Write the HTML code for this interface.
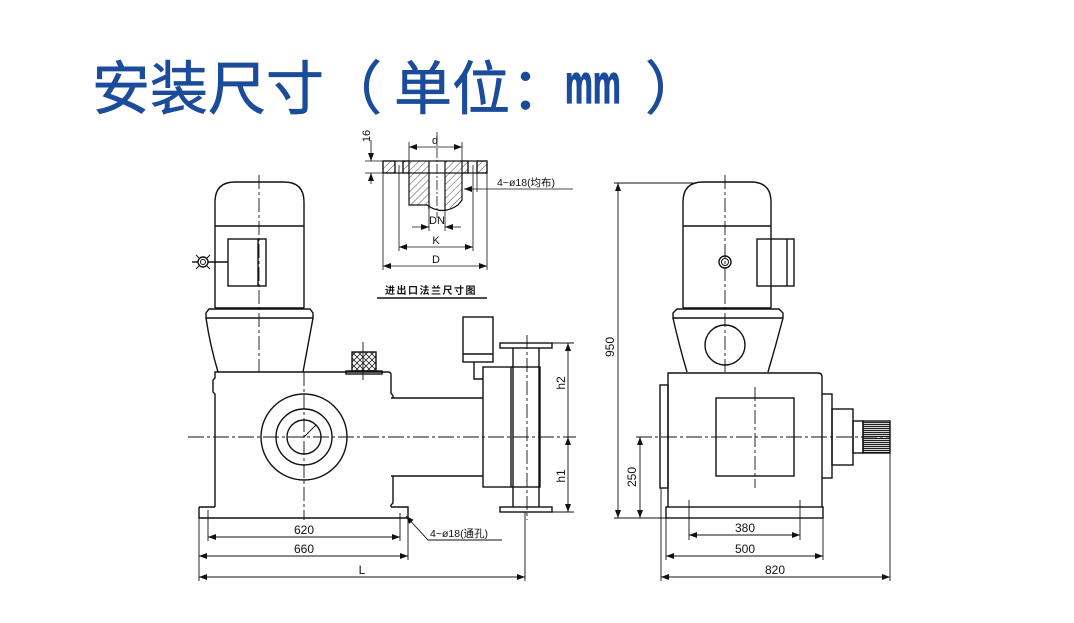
<!DOCTYPE html>
<html><head><meta charset="utf-8"><style>
html,body{margin:0;padding:0;background:#fff;}
svg{display:block;}
</style></head><body>
<svg width="1074" height="623" viewBox="0 0 1074 623" xmlns="http://www.w3.org/2000/svg" font-family="'Liberation Sans', sans-serif">
<defs>
<marker id="ar" viewBox="0 0 8 6" refX="8" refY="3" markerWidth="8" markerHeight="6" markerUnits="userSpaceOnUse" orient="auto-start-reverse"><path d="M0,0L8,3L0,6z" fill="#111"/></marker>
<pattern id="hatch" width="5" height="5" patternUnits="userSpaceOnUse" patternTransform="rotate(45)"><line x1="0" y1="0" x2="0" y2="5" stroke="#222" stroke-width="0.8"/></pattern>
<pattern id="xh" width="6" height="6" patternUnits="userSpaceOnUse"><path d="M0,0L6,6M6,0L0,6" stroke="#222" stroke-width="0.8"/></pattern>
<pattern id="spl" width="4" height="2" patternUnits="userSpaceOnUse"><rect width="4" height="1.2" fill="#222"/></pattern>
</defs>
<rect width="1074" height="623" fill="#fff"/>

<!-- Title -->
<g fill="#1b4c9b" stroke="#1b4c9b" stroke-width="0.7" font-family="'Liberation Sans','Noto Sans CJK SC',sans-serif" font-size="58">
<text x="92" y="109">安装尺寸</text>
<text x="324" y="109">（</text>
<text x="394" y="109">单位</text>
<text x="511" y="109">：</text>
<text x="645" y="109">）</text>
</g>
<text transform="translate(565,103) scale(0.56,1)" font-size="56" font-weight="bold" fill="#1b4c9b" stroke="#1b4c9b" stroke-width="1.2" font-family="'Liberation Sans',sans-serif">mm</text>

<!-- ============ FLANGE DETAIL ============ -->
<g stroke="#111" fill="none" stroke-width="1.2">
<rect x="383" y="161" width="12" height="12" fill="url(#hatch)"/>
<rect x="403" y="161" width="6" height="12" fill="url(#hatch)"/>
<rect x="462" y="161" width="6" height="12" fill="url(#hatch)"/>
<rect x="477" y="161" width="10" height="12" fill="url(#hatch)"/>
<path d="M409,161V205H429V161Z" fill="url(#hatch)" stroke="none"/>
<path d="M445,161V209Q452,208 458,205L462,200V161Z" fill="url(#hatch)" stroke="none"/>
<rect x="383" y="161" width="104" height="12"/>
<path d="M409,173V205H427Q442,216 458,205L462,200V173"/>
<line x1="429" y1="161" x2="429" y2="209"/>
<line x1="445" y1="161" x2="445" y2="210"/>
<line x1="395" y1="161" x2="395" y2="173"/>
<line x1="403" y1="161" x2="403" y2="173"/>
<line x1="468" y1="161" x2="468" y2="173"/>
<line x1="477" y1="161" x2="477" y2="173"/>
</g>
<g stroke="#111" fill="none" stroke-width="0.8">
<line x1="437" y1="132" x2="437" y2="218" stroke-dasharray="10 2 2 2"/>
<line x1="365" y1="161" x2="383" y2="161"/>
<line x1="365" y1="173" x2="383" y2="173"/>
<line x1="371" y1="140" x2="371" y2="161" marker-end="url(#ar)"/>
<line x1="371" y1="184" x2="371" y2="173" marker-end="url(#ar)"/>
<line x1="409" y1="142" x2="409" y2="161"/>
<line x1="462" y1="142" x2="462" y2="161"/>
<line x1="409" y1="147" x2="462" y2="147" marker-start="url(#ar)" marker-end="url(#ar)"/>
<line x1="477" y1="173" x2="477" y2="192"/>
<line x1="573" y1="189" x2="464" y2="189" marker-end="url(#ar)"/>
<line x1="429" y1="209" x2="429" y2="231"/>
<line x1="445" y1="210" x2="445" y2="231"/>
<line x1="412" y1="227" x2="429" y2="227" marker-end="url(#ar)"/>
<line x1="461" y1="227" x2="445" y2="227" marker-end="url(#ar)"/>
<line x1="399" y1="165" x2="399" y2="251"/>
<line x1="473" y1="165" x2="473" y2="251"/>
<line x1="399" y1="247" x2="473" y2="247" marker-start="url(#ar)" marker-end="url(#ar)"/>
<line x1="383" y1="173" x2="383" y2="270"/>
<line x1="487" y1="173" x2="487" y2="270"/>
<line x1="383" y1="266" x2="487" y2="266" marker-start="url(#ar)" marker-end="url(#ar)"/>
</g>
<line x1="377" y1="298" x2="487" y2="298" stroke="#111" stroke-width="1.6"/>
<g fill="#111" font-size="11">
<text x="435" y="144" text-anchor="middle">d</text>
<text transform="translate(370,136) rotate(-90)" text-anchor="middle">16</text>
<text x="497" y="186" font-family="'Liberation Sans','Noto Sans CJK SC',sans-serif" font-size="10.5">4~ø18(均布)</text>
<text x="437" y="224" text-anchor="middle">DN</text>
<text x="436" y="244" text-anchor="middle">K</text>
<text x="436" y="263" text-anchor="middle">D</text>
<text x="431" y="294" text-anchor="middle" font-family="'Noto Sans CJK SC',sans-serif" font-size="10" font-weight="bold" letter-spacing="1.5">进出口法兰尺寸图</text>
</g>

<!-- ============ LEFT PUMP ============ -->
<g stroke="#111" fill="none" stroke-width="1.4">
<path d="M215,308V202Q215,182 235,182H284Q304,182 304,202V308"/>
<line x1="215" y1="226" x2="304" y2="226"/>
<line x1="215" y1="308" x2="304" y2="308"/>
<rect x="228" y="239" width="38" height="47"/>
<line x1="258" y1="239" x2="258" y2="286"/>
<circle cx="203" cy="262" r="5"/>
<circle cx="203" cy="262" r="2.5" stroke-width="1"/>
<path d="M199,258L196,255M199,266L196,269M207,258L210,255M207,266L210,269" stroke-width="1"/>
<line x1="208" y1="262" x2="228" y2="262"/>
<line x1="192" y1="262" x2="198" y2="262"/>
<path d="M209,309H310L313,313V318H206V313Z"/>
<path d="M206,318Q210,345 218,372M313,318Q308,345 303,372"/>
<path d="M215,507V394L213,392V380L215,378V372H388Q391,372 391,375V393L393,396V398M393,476V503L391,505V507"/>
<path d="M199,507H215M391,507H408V518H199V507"/>
<rect x="352" y="352" width="24" height="19" fill="url(#xh)"/>
<rect x="346" y="371" width="36" height="3"/>
<circle cx="304" cy="437" r="43"/>
<circle cx="304" cy="437" r="28"/>
<circle cx="304" cy="437" r="17"/>
<line x1="304" y1="437" x2="316" y2="425" stroke-width="0.9"/>
<line x1="391" y1="398" x2="483" y2="398"/>
<line x1="391" y1="476" x2="483" y2="476"/>
<rect x="483" y="367" width="57" height="120"/>
<line x1="511" y1="367" x2="511" y2="487"/>
<line x1="513" y1="348" x2="513" y2="507"/>
<line x1="539" y1="348" x2="539" y2="507"/>
<rect x="500" y="343" width="52" height="5"/>
<rect x="500" y="507" width="52" height="5"/>
<rect x="463" y="317" width="30" height="45"/>
<line x1="463" y1="354" x2="493" y2="354"/>
<path d="M474,362V379H483"/>
</g>
<g stroke="#111" fill="none" stroke-width="0.9">
<line x1="259" y1="175" x2="259" y2="372" stroke-dasharray="14 3 3 3"/>
<line x1="304" y1="372" x2="304" y2="520" stroke-dasharray="14 3 3 3"/>
<line x1="188" y1="437" x2="576" y2="437" stroke-dasharray="16 3 3 3"/>
<line x1="527" y1="335" x2="527" y2="520" stroke-dasharray="14 3 3 3"/>
<line x1="363" y1="342" x2="363" y2="380"/>
<line x1="552" y1="343" x2="574" y2="343"/>
<line x1="552" y1="512" x2="574" y2="512"/>
<line x1="568" y1="437" x2="568" y2="343" marker-end="url(#ar)"/>
<line x1="568" y1="437" x2="568" y2="512" marker-start="url(#ar)" marker-end="url(#ar)"/>
<line x1="208" y1="510" x2="208" y2="541"/>
<line x1="400" y1="513" x2="400" y2="541"/>
<line x1="208" y1="537" x2="400" y2="537" marker-start="url(#ar)" marker-end="url(#ar)"/>
<line x1="199" y1="518" x2="199" y2="581"/>
<line x1="408" y1="518" x2="408" y2="560"/>
<line x1="199" y1="556" x2="408" y2="556" marker-start="url(#ar)" marker-end="url(#ar)"/>
<line x1="525" y1="512" x2="525" y2="581"/>
<line x1="199" y1="577" x2="525" y2="577" marker-start="url(#ar)" marker-end="url(#ar)"/>
<path d="M502,540H428L406,516" marker-end="url(#ar)"/>
</g>
<g fill="#111" font-size="12">
<text transform="translate(565,383) rotate(-90)" text-anchor="middle">h2</text>
<text transform="translate(565,476) rotate(-90)" text-anchor="middle">h1</text>
<text x="304" y="534" text-anchor="middle">620</text>
<text x="304" y="553" text-anchor="middle">660</text>
<text x="362" y="574" text-anchor="middle">L</text>
<text x="430" y="537" font-family="'Liberation Sans','Noto Sans CJK SC',sans-serif" font-size="10.5">4~ø18(通孔)</text>
</g>

<!-- ============ RIGHT PUMP ============ -->
<g stroke="#111" fill="none" stroke-width="1.4">
<path d="M683,308V202Q683,182 703,182H751Q771,182 771,202V308"/>
<line x1="683" y1="226" x2="771" y2="226"/>
<line x1="683" y1="308" x2="771" y2="308"/>
<rect x="757" y="239" width="37" height="47"/>
<line x1="787" y1="239" x2="787" y2="286"/>
<circle cx="725" cy="262" r="6"/>
<circle cx="725" cy="262" r="3.5" stroke-width="1"/>
<path d="M677,309H779L783,313V318H673V313Z"/>
<path d="M673,318Q679,345 687,372M783,318Q776,345 768,372"/>
<circle cx="725" cy="345" r="20"/>
<path d="M668,507V373H818Q822,373 822,377V394M822,478V507"/>
<rect x="660" y="385" width="8" height="103"/>
<rect x="822" y="394" width="10" height="84"/>
<rect x="832" y="409" width="21" height="56"/>
<rect x="853" y="421" width="10" height="32"/>
<rect x="863" y="421" width="27" height="32" fill="url(#spl)"/>
<rect x="716" y="398" width="78" height="78"/>
<rect x="666" y="507" width="157" height="11"/>
</g>
<g stroke="#111" fill="none" stroke-width="0.9">
<line x1="725" y1="175" x2="725" y2="372" stroke-dasharray="14 3 3 3"/>
<line x1="755" y1="387" x2="755" y2="488" stroke-dasharray="14 3 3 3"/>
<line x1="636" y1="437" x2="890" y2="437" stroke-dasharray="16 3 3 3"/>
<line x1="614" y1="183" x2="693" y2="183"/>
<line x1="614" y1="518" x2="666" y2="518"/>
<line x1="618" y1="350" x2="618" y2="183" marker-end="url(#ar)"/>
<line x1="618" y1="350" x2="618" y2="518" marker-end="url(#ar)"/>
<line x1="640" y1="437" x2="640" y2="518" marker-start="url(#ar)" marker-end="url(#ar)"/>
<line x1="689" y1="500" x2="689" y2="540"/>
<line x1="800" y1="500" x2="800" y2="540"/>
<line x1="689" y1="535" x2="800" y2="535" marker-start="url(#ar)" marker-end="url(#ar)"/>
<line x1="666" y1="518" x2="666" y2="560"/>
<line x1="823" y1="518" x2="823" y2="560"/>
<line x1="666" y1="556" x2="823" y2="556" marker-start="url(#ar)" marker-end="url(#ar)"/>
<line x1="661" y1="488" x2="661" y2="581"/>
<line x1="890" y1="453" x2="890" y2="581"/>
<line x1="661" y1="577" x2="890" y2="577" marker-start="url(#ar)" marker-end="url(#ar)"/>
</g>
<g fill="#111" font-size="12">
<text transform="translate(614,347) rotate(-90)" text-anchor="middle">950</text>
<text transform="translate(636,477) rotate(-90)" text-anchor="middle">250</text>
<text x="745" y="532" text-anchor="middle">380</text>
<text x="745" y="553" text-anchor="middle">500</text>
<text x="775" y="574" text-anchor="middle">820</text>
</g>
</svg>
</body></html>
